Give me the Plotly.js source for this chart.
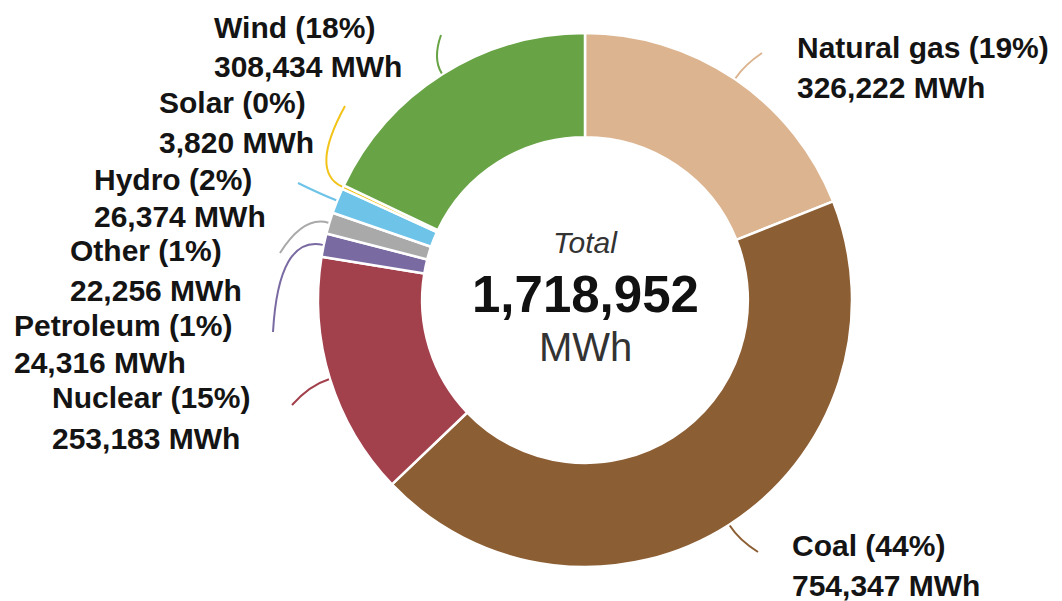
<!DOCTYPE html>
<html>
<head>
<meta charset="utf-8">
<script src="https://cdn.plot.ly/plotly-3.0.1.min.js"></script>
<style>html,body{margin:0;padding:0;background:#fff;}#chart{width:1062px;height:601px;}</style>
</head>
<body>
<div id="chart"></div>
<script>
// ---- data ----
const sources = ["Natural gas", "Coal", "Nuclear", "Petroleum", "Other", "Hydro", "Solar", "Wind"];
const generationMWh = [326222, 754347, 253183, 24316, 22256, 26374, 3820, 308434];
const sliceColors = ["#dcb48f", "#8c5e34", "#a2404c", "#7a6aa2", "#a9a9a9", "#6ec3e8", "#f2c318", "#68a345"];
const unitLabel = "MWh";
const totalLabel = "Total";

// ---- layout constants (pixels) ----
const W = 1062, H = 601;
const CX = 585, CY = 300, R = 267;
// label text anchor (left x, line1 y, line2 y) and leader end point
const labelPos = {
  "Natural gas": [795, 47, 88, 762, 53],
  "Coal":        [790, 545, 585, 758, 552],
  "Nuclear":     [50, 397, 438, 292, 405],
  "Petroleum":   [12, 325, 362, 273, 332],
  "Other":       [68, 250, 290, 280, 253],
  "Hydro":       [92, 180, 216, 298, 183],
  "Solar":       [157, 103, 142, 345, 106],
  "Wind":        [212, 28, 66, 441, 35]
};

const px = x => x / W;
const py = y => 1 - y / H;
const fmt = n => n.toLocaleString("en-US");

const total = generationMWh.reduce((a, b) => a + b, 0);

const trace = {
  type: "pie",
  labels: sources,
  values: generationMWh,
  sort: false,
  direction: "clockwise",
  rotation: 0,
  hole: 0.61,
  textinfo: "none",
  hoverinfo: "label+value+percent",
  marker: { colors: sliceColors, line: { color: "#ffffff", width: 2.5 } },
  domain: { x: [(CX - R) / W, (CX + R) / W], y: [1 - (CY + R) / H, 1 - (CY - R) / H] },
  showlegend: false
};

const annotations = [];
const shapes = [];
const labelFont = { family: "Liberation Sans, Arial, sans-serif", size: 30, color: "#141414" };

let cum = 0;
sources.forEach((name, i) => {
  const frac = generationMWh[i] / total;
  const mid = cum + frac / 2;
  cum += frac;
  const ang = mid * 2 * Math.PI; // clockwise from 12 o'clock
  const ux = Math.sin(ang), uy = -Math.cos(ang);
  const sx = CX + (R + 1) * ux, sy = CY + (R + 1) * uy;
  const p = labelPos[name];
  const ex = p[3], ey = p[4];
  const d = Math.hypot(ex - sx, ey - sy);
  const qx = sx + ux * d * 0.45, qy = sy + uy * d * 0.45;
  shapes.push({
    type: "path", xref: "paper", yref: "paper",
    path: `M ${px(sx)},${py(sy)} Q ${px(qx)},${py(qy)} ${px(ex)},${py(ey)}`,
    line: { color: sliceColors[i], width: 2 }
  });
  const pct = Math.round(frac * 100);
  annotations.push({
    xref: "paper", yref: "paper", x: px(p[0]), y: py(p[1]),
    xanchor: "left", yanchor: "middle", showarrow: false,
    text: `<b>${name} (${pct}%)</b>`, font: labelFont
  });
  annotations.push({
    xref: "paper", yref: "paper", x: px(p[0]), y: py(p[2]),
    xanchor: "left", yanchor: "middle", showarrow: false,
    text: `<b>${fmt(generationMWh[i])} ${unitLabel}</b>`, font: labelFont
  });
});

// centre texts
annotations.push({
  xref: "paper", yref: "paper", x: px(CX), y: py(243), xanchor: "center", yanchor: "middle",
  showarrow: false, text: `<i>${totalLabel}</i>`,
  font: { family: "Liberation Sans, Arial, sans-serif", size: 30, color: "#333333" }
});
annotations.push({
  xref: "paper", yref: "paper", x: px(CX), y: py(294), xanchor: "center", yanchor: "middle",
  showarrow: false, text: `<b>${fmt(total)}</b>`,
  font: { family: "Liberation Sans, Arial, sans-serif", size: 51, color: "#111111" }
});
annotations.push({
  xref: "paper", yref: "paper", x: px(CX), y: py(347), xanchor: "center", yanchor: "middle",
  showarrow: false, text: unitLabel,
  font: { family: "Liberation Sans, Arial, sans-serif", size: 40, color: "#333333" }
});

const layout = {
  width: W, height: H,
  margin: { l: 0, r: 0, t: 0, b: 0 },
  paper_bgcolor: "#ffffff",
  plot_bgcolor: "#ffffff",
  annotations: annotations,
  shapes: shapes
};

Plotly.newPlot("chart", [trace], layout, { displayModeBar: false, staticPlot: true });
</script>
</body>
</html>
